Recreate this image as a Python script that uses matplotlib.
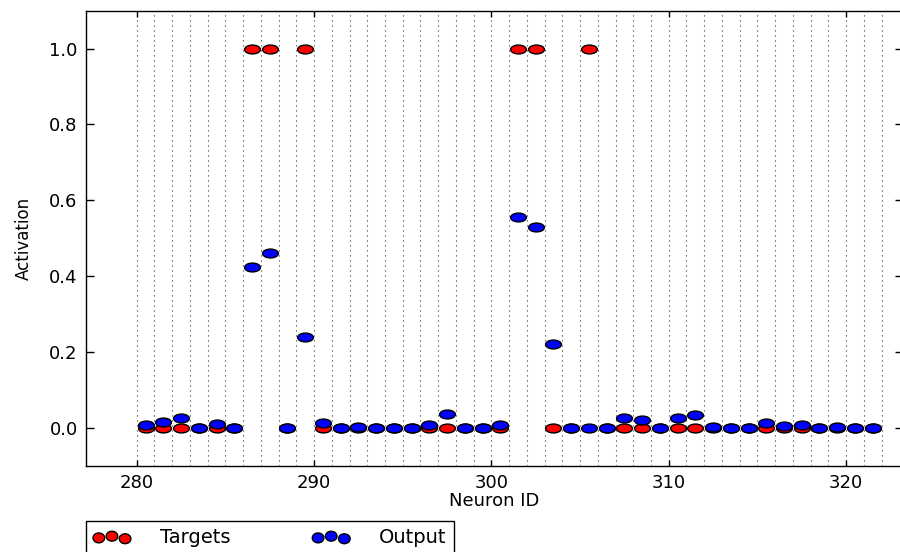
import matplotlib
matplotlib.use("Agg")
import matplotlib.pyplot as plt
import numpy as np
from matplotlib.path import Path
from matplotlib.transforms import Affine2D

# neuron ids shown in the window, one bin per neuron
neuron_ids = np.arange(280, 322)

targets = [0, 0, 0, 0, 0, 0, 1, 1, 0, 1,
           0, 0, 0, 0, 0, 0, 0, 0, 0, 0,
           0, 1, 1, 0, 0, 1, 0, 0, 0, 0,
           0, 0, 0, 0, 0, 0, 0, 0, 0, 0,
           0, 0]

outputs = [0.007, 0.014, 0.026, 0.0, 0.010, 0.0, 0.425, 0.462, 0.0, 0.240,
           0.012, 0.0, 0.002, 0.0, 0.0, 0.0, 0.006, 0.035, 0.0, 0.0,
           0.007, 0.555, 0.528, 0.221, 0.0, 0.0, 0.0, 0.026, 0.020, 0.0,
           0.026, 0.034, 0.002, 0.0, 0.0, 0.012, 0.005, 0.006, 0.0, 0.002,
           0.0, 0.0]

x_ticks = [280, 290, 300, 310, 320]
y_ticks = [0.0, 0.2, 0.4, 0.6, 0.8, 1.0]

centres = neuron_ids + 0.5
edges = np.arange(neuron_ids[0], neuron_ids[-1] + 2)

# markers look squashed in the reference
ellipse = Path.unit_circle().transformed(Affine2D().scale(1.0, 0.56))
legend_ellipse = Path.unit_circle().transformed(Affine2D().scale(1.0, 0.85))

fig = plt.figure(figsize=(9, 5.52), dpi=100)
ax = fig.add_axes([86 / 900, 1 - 465.5 / 552, (903 - 86) / 900, (465.5 - 10.7) / 552])

for e in edges:
    ax.axvline(e, color="#333333", linestyle=(0, (1, 3.5)), linewidth=0.8, zorder=1)

ax.scatter(centres, targets, marker=ellipse, s=130, c="#ff0000",
           edgecolors="black", linewidths=1, zorder=3)
ax.scatter(centres, outputs, marker=ellipse, s=130, c="#0000ff",
           edgecolors="black", linewidths=1, zorder=4)

ax.set_xlim(277.14, 323.21)
ax.set_ylim(-0.1, 1.1)
ax.set_xticks(x_ticks)
ax.set_yticks(y_ticks)
ax.set_yticklabels([f"{v:.1f}" for v in y_ticks])
ax.tick_params(direction="in", top=True, right=True, width=1, labelsize=13)
ax.tick_params(axis="x", length=4, pad=6)
ax.tick_params(axis="y", length=6, pad=6)
for sp in ax.spines.values():
    sp.set_linewidth(1)
    sp.set_color("black")

ax.set_xlabel("Neuron ID", fontsize=13, labelpad=0)
ax.set_ylabel("Activation", fontsize=12, labelpad=12)

h_t = ax.scatter([], [], marker=legend_ellipse, s=70, c="#ff0000",
                 edgecolors="black", linewidths=1)
h_o = ax.scatter([], [], marker=legend_ellipse, s=70, c="#0000ff",
                 edgecolors="black", linewidths=1)
leg = fig.legend([h_t, h_o], ["Targets", "Output"], ncol=2, scatterpoints=3,
                 loc="upper left", bbox_to_anchor=(86 / 900, 1 - 521 / 552),
                 bbox_transform=fig.transFigure, borderaxespad=0,
                 fontsize=14, handlelength=1.95, handletextpad=1.5,
                 columnspacing=4.2, borderpad=0.36, fancybox=False,
                 framealpha=1, edgecolor="black")
leg.get_frame().set_linewidth(1)

fig.savefig("out.png", dpi=100)
